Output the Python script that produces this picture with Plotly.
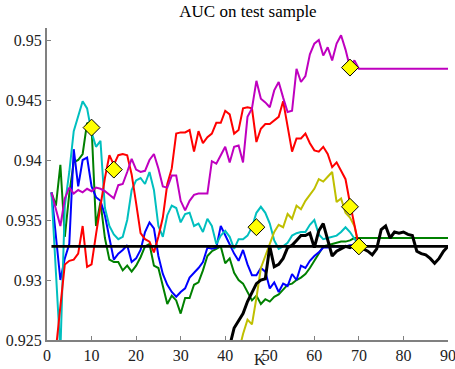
import plotly.graph_objects as go

# ---------------- data ----------------
k_start_full = 1
magenta = [.9373, .9360, .9345, .9368, .9377, .9372, .9375, .9373, .9376, .9374,
           .9377, .9376, .9374, .9371, .9368, .9379, .9380, .9390, .9401, .9392,
           .9390, .9391, .9400, .9405, .9393, .9378, .9377, .9387, .9387, .9366,
           .9358, .9366, .9371, .9372, .9372, .9372, .9399, .9397, .9404, .9411,
           .9398, .9411, .9412, .9398, .9436, .9443, .9466, .9451, .9448, .9444,
           .9458, .9465, .9452, .9440, .9441, .9476, .9465, .9470, .9488, .9497,
           .9500, .9487, .9494, .9483, .9497, .9504, .9492, .9477, .9483, .9476,
           .9476, .9476, .9476, .9476, .9476, .9476, .9476, .9476, .9476, .9476,
           .9476, .9476, .9476, .9476, .9476, .9476, .9476, .9476, .9476, .9476]

red = [.9230, .9242, .9278, .9313, .9316, .9317, .9322, .9345, .9311, .9313,
       .9338, .9362, .9385, .9404, .9396, .9404, .9405, .9404, .9388, .9364,
       .9339, .9334, .9332, .9323, .9336, .9352, .9380, .9393, .9422, .9423,
       .9423, .9425, .9407, .9424, .9414, .9419, .9422, .9431, .9431, .9441,
       .9438, .9422, .9425, .9443, .9444, .9443, .9415, .9426, .9430, .9430,
       .9433, .9436, .9449, .9428, .9407, .9418, .9418, .9422, .9414, .9408,
       .9407, .9411, .9405, .9394, .9398, .9391, .9384, .9364, .9345, .9328]

cyan = [.9373, .9305, .9240, .9362, .9390, .9424, .9436, .9449, .9443, .9423,
        .9411, .9416, .9360, .9345, .9338, .9334, .9336, .9350, .9375, .9383,
        .9385, .9380, .9390, .9375, .9345, .9336, .9354, .9362, .9360, .9348,
        .9355, .9356, .9345, .9347, .9340, .9351, .9345, .9330, .9337, .9341,
        .9336, .9326, .9334, .9334, .9337, .9344, .9356, .9361, .9356, .9347,
        .9333, .9326, .9328, .9331, .9337, .9339, .9340, .9340, .9346, .9350,
        .9338, .9334, .9335, .9336, .9337, .9340, .9344, .9340, .9334, .9329]

blue = [.9373, .9335, .9300, .9318, .9330, .9409, .9378, .9400, .9402, .9378,
        .9369, .9366, .9354, .9335, .9317, .9322, .9325, .9329, .9315, .9318,
        .9325, .9340, .9348, .9343, .9320, .9305, .9296, .9290, .9286, .9290,
        .9293, .9302, .9306, .9310, .9315, .9327, .9326, .9327, .9345, .9337,
        .9330, .9322, .9316, .9325, .9313, .9304, .9304, .9310, .9307, .9293,
        .9298, .9290, .9297, .9295, .9305, .9300, .9312, .9310, .9316, .9320,
        .9323, .9327, .9327, .9328, .9328, .9328, .9328, .9329, .9329, .9328]

green = [.9373, .9362, .9396, .9336, .9372, .9398, .9400, .9405, .9431, .9428,
         .9345, .9365, .9335, .9317, .9315, .9315, .9308, .9312, .9307, .9312,
         .9319, .9328, .9330, .9312, .9310, .9296, .9280, .9287, .9283, .9272,
         .9285, .9285, .9296, .9298, .9308, .9320, .9324, .9326, .9328, .9314,
         .9318, .9306, .9300, .9297, .9290, .9283, .9287, .9280, .9284, .9282,
         .9286, .9288, .9292, .9296, .9297, .9300, .9302, .9305, .9310, .9316,
         .9322, .9328, .9329, .9330, .9331, .9332, .9332, .9333, .9335, .9335,
         .9335, .9335, .9335, .9335, .9335, .9335, .9335, .9335, .9335, .9335,
         .9335, .9335, .9335, .9335, .9335, .9335, .9335, .9335, .9335, .9335]

k_start_yellow = 42
yellow = [.9225, .9240, .9255, .9267, .9263, .9285, .9310, .9320, .9330, .9340,
          .9346, .9344, .9355, .9351, .9362, .9359, .9366, .9371, .9376, .9384,
          .9382, .9386, .9390, .9365, .9368, .9356, .9352, .9345, .9328]

k_start_black = 40
black = [.9235, .9245, .9260, .9266, .9272, .9282, .9290, .9297, .9300, .9301,
         .9328, .9311, .9313, .9318, .9327, .9329, .9333, .9337, .9337, .9339,
         .9327, .9341, .9347, .9333, .9320, .9324, .9326, .9328, .9327, .9329,
         .9328, .9326, .9324, .9321, .9326, .9342, .9345, .9335, .9340, .9339,
         .9340, .9338, .9337, .9324, .9322, .9321, .9318, .9314, .9318, .9324,
         .9328]

baseline_value = 0.9328
baseline_k = [1, 90]

diamond_k = [10, 15, 47, 68, 68, 70]
diamond_v = [.9427, .9392, .9344, .9361, .9477, .9328]

x_ticks = [0, 10, 20, 30, 40, 50, 60, 70, 80, 90]
y_ticks = [0.925, 0.93, 0.935, 0.94, 0.945, 0.95]
y_tick_text = ["0.925", "0.93", "0.935", "0.94", "0.945", "0.95"]

# ---------------- figure ----------------
def ks(start, vals):
    return list(range(start, start + len(vals)))

fig = go.Figure()
series = [
    (green, k_start_full, "#008000", 2),
    (blue, k_start_full, "#0000FF", 2),
    (cyan, k_start_full, "#00BFBF", 2),
    (yellow, k_start_yellow, "#BFBF00", 2),
    (red, k_start_full, "#FF0000", 2),
    (magenta, k_start_full, "#BF00BF", 2),
    (black, k_start_black, "#000000", 3),
]
for vals, st, col, w in series:
    fig.add_trace(go.Scatter(x=ks(st, vals), y=vals, mode="lines",
                             line=dict(color=col, width=w), hoverinfo="skip"))

fig.add_trace(go.Scatter(x=baseline_k, y=[baseline_value] * len(baseline_k), mode="lines",
                         line=dict(color="#000000", width=2.6), hoverinfo="skip"))

fig.add_trace(go.Scatter(x=diamond_k, y=diamond_v, mode="markers",
                         marker=dict(symbol="diamond", size=13, color="#FFFF00",
                                     line=dict(color="#000000", width=1)),
                         hoverinfo="skip"))

font_serif = "Liberation Serif, Times New Roman, serif"
fig.update_layout(
    width=455, height=369,
    margin=dict(l=47, r=7, t=28, b=29),
    paper_bgcolor="white", plot_bgcolor="white",
    showlegend=False,
    font=dict(family=font_serif, size=16, color="#222222"),
    title=dict(text="AUC on test sample", x=0.545, xanchor="center", y=0.985, yanchor="top",
               font=dict(family=font_serif, size=17, color="#000000")),
    xaxis=dict(range=[0, 90], tickvals=x_ticks, ticks="inside", ticklen=4, tickwidth=1,
               tickcolor="#808080", showline=True, linecolor="#808080", linewidth=2,
               showgrid=False, zeroline=False, mirror=False, ticklabeloverflow="allow",
               automargin=False,
               tickfont=dict(family=font_serif, size=16, color="#222222")),
    yaxis=dict(range=[0.925, 0.951], tickvals=y_ticks, ticktext=y_tick_text, ticks="inside",
               ticklen=4, tickwidth=1, tickcolor="#808080", showline=True,
               linecolor="#808080", linewidth=2, showgrid=False, zeroline=False,
               ticklabeloverflow="allow", automargin=False,
               tickfont=dict(family=font_serif, size=16, color="#222222")),
    annotations=[dict(text="K", xref="paper", yref="paper", x=0.53, y=-0.03,
                      xanchor="center", yanchor="top", showarrow=False,
                      font=dict(family=font_serif, size=16, color="#222222"))],
)

fig.write_html("out.html")
